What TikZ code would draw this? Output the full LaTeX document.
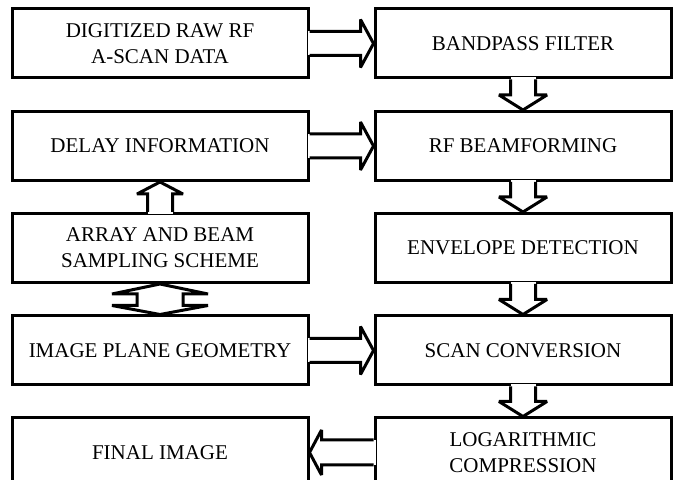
\documentclass[tikz,border=0pt]{standalone}
\usepackage{fontspec}
\setmainfont{Liberation Serif}
\usetikzlibrary{calc}

% fat block arrows, open at the box they leave
\newcommand{\fatright}[2]{%
  \fill[white] ($(#1.east)+(-2,-12)$) rectangle ($(#2.west)+(-13,12)$);
  \draw ($(#1.east)+(0,-12)$) -- ($(#2.west)+(-13,-12)$) -- ($(#2.west)+(-13,-24)$) -- (#2.west)
    -- ($(#2.west)+(-13,24)$) -- ($(#2.west)+(-13,12)$) -- ($(#1.east)+(0,12)$);}
\newcommand{\fatleft}[2]{%
  \fill[white] ($(#1.west)+(2,-12.5)$) rectangle ($(#2.east)+(12,12.5)$);
  \draw ($(#1.west)+(0,-12.5)$) -- ($(#2.east)+(12,-12.5)$) -- ($(#2.east)+(12,-22.5)$) -- (#2.east)
    -- ($(#2.east)+(12,22.5)$) -- ($(#2.east)+(12,12.5)$) -- ($(#1.west)+(0,12.5)$);}
\newcommand{\fatdown}[2]{%
  \fill[white] ($(#1.south)+(-12.5,-2)$) rectangle ($(#2.north)+(12.5,-15)$);
  \draw ($(#1.south)+(-12.5,0)$) -- ($(#2.north)+(-12.5,-15)$) -- ($(#2.north)+(-24,-15)$) -- (#2.north)
    -- ($(#2.north)+(24,-15)$) -- ($(#2.north)+(12.5,-15)$) -- ($(#1.south)+(12.5,0)$);}
\newcommand{\fatup}[2]{%
  \fill[white] ($(#1.north)+(-12.5,2)$) rectangle ($(#2.south)+(12.5,12)$);
  \draw ($(#1.north)+(-12.5,0)$) -- ($(#2.south)+(-12.5,12)$) -- ($(#2.south)+(-23,12)$) -- (#2.south)
    -- ($(#2.south)+(23,12)$) -- ($(#2.south)+(12.5,12)$) -- ($(#1.north)+(12.5,0)$);}

\begin{document}
\begin{tikzpicture}[x=0.5pt, y=-0.5pt, line width=1.5pt, miter limit=2.5,
    blk/.style={draw, rectangle, minimum width=148pt, minimum height=34.5pt,
      align=center, font=\fontsize{10.5}{13}\selectfont}]
    \useasboundingbox (0,0) rectangle (675,480);
    \clip (0,0) rectangle (675,480);

    % Left column
    \node[blk] at (160,43.5) (raw) {DIGITIZED RAW RF\\A-SCAN DATA};
    \node[blk] at (160,146) (delay) {DELAY INFORMATION};
    \node[blk] at (160,248) (array) {ARRAY AND BEAM\\SAMPLING SCHEME};
    \node[blk] at (160,350.5) (plane) {IMAGE PLANE GEOMETRY};
    \node[blk] at (160,452.5) (final) {FINAL IMAGE};

    % Right column
    \node[blk] at (523,43.5) (bpf) {BANDPASS FILTER};
    \node[blk] at (523,146) (rfbf) {RF BEAMFORMING};
    \node[blk] at (523,248) (env) {ENVELOPE DETECTION};
    \node[blk] at (523,350.5) (scan) {SCAN CONVERSION};
    \node[blk] at (523,452.5) (logc) {LOGARITHMIC\\COMPRESSION};

    % Block arrows
    \fatright{raw}{bpf}
    \fatright{delay}{rfbf}
    \fatright{plane}{scan}
    \fatdown{bpf}{rfbf}
    \fatdown{rfbf}{env}
    \fatdown{env}{scan}
    \fatdown{scan}{logc}
    \fatup{array}{delay}
    \fatleft{logc}{final}

    % Two-way arrow
    \draw[fill=white] (array.south) -- ($(array.south)+(48,10)$) -- ($(array.south)+(23,10)$)
      -- ($(plane.north)+(23,-9)$) -- ($(plane.north)+(48,-9)$) -- (plane.north)
      -- ($(plane.north)+(-48,-9)$) -- ($(plane.north)+(-23,-9)$)
      -- ($(array.south)+(-23,10)$) -- ($(array.south)+(-48,10)$) -- cycle;
\end{tikzpicture}
\end{document}
